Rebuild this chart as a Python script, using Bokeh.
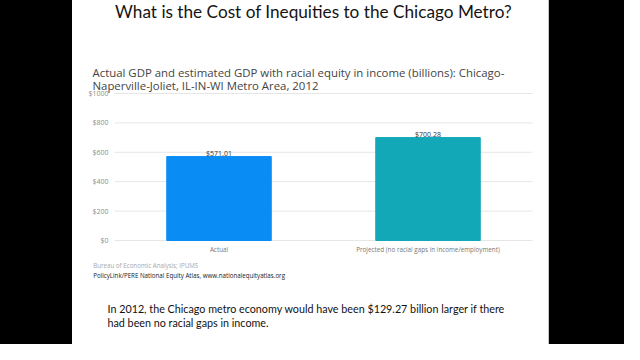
from bokeh.plotting import figure
from bokeh.layouts import row
from bokeh.models import (ColumnDataSource, PrintfTickFormatter, FixedTicker, Range1d, Spacer,
                          LinearAxis)
from bokeh.core.properties import value
from bokeh.embed import file_html
from bokeh.resources import INLINE

# ---- data ----
categories = ["Actual", "Projected (no racial gaps in income/employment)"]
gdp_values = [571.01, 700.28]
bar_colors = ["#0a8cf5", "#12a8b8"]
y_ticks = [0, 200, 400, 600, 800, 1000]

slide_title = "What is the Cost of Inequities to the Chicago Metro?"
chart_title_lines = ["Actual GDP and estimated GDP with racial equity in income (billions): Chicago-",
                     "Naperville-Joliet, IL-IN-WI Metro Area, 2012"]
source_lines = ["Bureau of Economic Analysis; IPUMS",
                "PolicyLink/PERE National Equity Atlas, www.nationalequityatlas.org"]
note_lines = ["In 2012, the Chicago metro economy would have been $129.27 billion larger if there",
              "had been no racial gaps in income."]

# ---- layout constants (pixels inside the slide) ----
H = 344            # slide/figure height
W = 476            # slide width
PL, PR = 42, 460   # plot area left/right
PT, PB = 93, 240   # plot area top (y max) / bottom (y = 0)
Y_MAX = 1000

n = len(categories)
xs = list(range(n))
unit_x = (PR - PL) / n
unit_y = (PB - PT) / Y_MAX
x_start = -0.5 - PL / unit_x
x_end = n - 0.5 + (W - PR) / unit_x
y_start = -(H - PB) / unit_y
y_end = Y_MAX + PT / unit_y

p = figure(width=W, height=H, toolbar_location=None, output_backend="svg",
           x_range=Range1d(x_start, x_end), y_range=Range1d(y_start, y_end),
           min_border=0, title=None, x_axis_type=None, y_axis_type=None)
p.background_fill_color = "white"
p.border_fill_color = "white"
p.outline_line_color = None
p.grid.visible = False
p.extra_x_ranges = {"px": Range1d(0, W)}
p.extra_y_ranges = {"px": Range1d(H, 0)}

# grid lines across the plot area
p.segment(x0=[-0.5] * len(y_ticks), x1=[n - 0.5] * len(y_ticks), y0=y_ticks, y1=y_ticks,
          line_color="#e6e6e6", line_width=1)

src = ColumnDataSource(dict(x=xs, val=gdp_values, color=bar_colors,
                            lab=[f"${v:.2f}" for v in gdp_values]))
p.vbar(x="x", top="val", width=0.5, color="color", source=src)
p.text(x="x", y="val", text="lab", source=src, text_align="center", text_baseline="bottom",
       y_offset=1, text_font=value("Open Sans"), text_font_size="7px", text_color="#333333")

yaxis = LinearAxis(fixed_location=-0.5, ticker=FixedTicker(ticks=y_ticks),
                   formatter=PrintfTickFormatter(format="$%d"))
yaxis.axis_line_color = None
yaxis.major_tick_line_color = None
yaxis.minor_tick_line_color = None
yaxis.major_tick_out = 0
yaxis.major_tick_in = 0
yaxis.major_label_standoff = 6
yaxis.major_label_text_font = "Open Sans"
yaxis.major_label_text_font_size = "7px"
yaxis.major_label_text_color = "#8c8c8c"
p.add_layout(yaxis, "left")

xaxis = LinearAxis(fixed_location=0, ticker=FixedTicker(ticks=xs),
                   major_label_overrides={i: c for i, c in zip(xs, categories)})
xaxis.axis_line_color = None
xaxis.major_tick_line_color = None
xaxis.minor_tick_line_color = None
xaxis.major_tick_out = 0
xaxis.major_tick_in = 0
xaxis.major_label_standoff = 4
xaxis.major_label_text_font = "Open Sans"
xaxis.major_label_text_font_size = "6.3px"
xaxis.major_label_text_color = "#777777"
p.add_layout(xaxis, "below")


def put(x, y, txt, size, font, color, align="left"):
    p.text(x=[x], y=[y], text=[txt], text_font=value(font), text_font_size=size,
           text_color=color, text_align=align, text_baseline="middle",
           x_range_name="px", y_range_name="px")


put(241, 11, slide_title, "17.2px", "Lato", "#141414", "center")
put(20, 72, chart_title_lines[0], "11.4px", "Open Sans", "#444444")
put(20, 85, chart_title_lines[1], "11.4px", "Open Sans", "#444444")
put(20.7, 264.5, source_lines[0], "6.2px", "Open Sans", "#a8a8a8")
put(20.7, 274.5, source_lines[1], "6.2px", "Open Sans", "#1a1a1a")
put(35, 307.5, note_lines[0], "10.75px", "Lato", "#111111")
put(35, 321.5, note_lines[1], "10.75px", "Lato", "#111111")

left = Spacer(width=72, height=H, styles={"background-color": "black"})
right = Spacer(width=76, height=H, styles={"background-color": "black",
                                           "border-left": "1px solid #c8c8c8",
                                           "box-sizing": "border-box"})
layout = row(left, p, right, spacing=0)
open("out.html", "w").write(file_html(layout, INLINE))
